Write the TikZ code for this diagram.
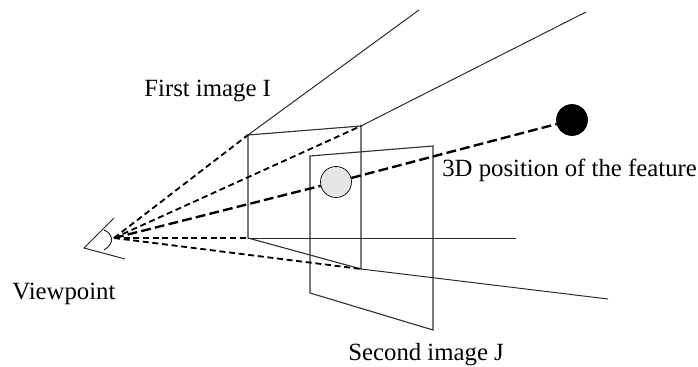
\documentclass[tikz,border=0pt]{standalone}
\usepackage{fontspec}
\setmainfont{Liberation Serif}
\usetikzlibrary{positioning}

\begin{document}
\begin{tikzpicture}[
    x=0.02cm, y=-0.02cm,
    frame/.style={draw=black!80, line width=0.65pt},
    ray/.style={draw=black!85, line width=0.55pt},
    dray/.style={line width=1.05pt, dash pattern=on 3.4pt off 2.1pt},
    fray/.style={line width=1.35pt, dash pattern=on 5.6pt off 2.4pt},
    feat/.style={circle, draw, inner sep=0pt, minimum size=0.62cm},
    lbl/.style={font=\fontsize{14.1}{16}\selectfont, inner sep=0pt, anchor=base west}
]
\useasboundingbox (0,0) rectangle (698,367);
\coordinate (eye) at (84,248);
\coordinate (lidU) at (114,218);
\coordinate (lidL) at (125,259);
\coordinate (irisU) at (104,230);
\coordinate (irisL) at (104,250);
\coordinate (F) at (114,238);

\coordinate (Ia) at (248,135);
\coordinate (Ib) at (361,126);
\coordinate (Ic) at (361,269);
\coordinate (Id) at (248,238);

\coordinate (Ja) at (310,156);
\coordinate (Jb) at (433,146);
\coordinate (Jc) at (433,330);
\coordinate (Jd) at (310,293);

\coordinate (Ra) at (419,10);
\coordinate (Rb) at (586,12);
\coordinate (Rc) at (608,299);
\coordinate (Rd) at (516,238);

\node[feat, fill=black!10] (G) at (336,182) {};
\node[feat, fill=black] (P) at (572,120) {};

% image planes
\draw[frame] (Ia) -- (Ib) -- (Ic) -- (Id) -- cycle;
\draw[frame] (Ja) -- (Jb) -- (Jc) -- (Jd) -- cycle;

% rays behind the planes
\draw[ray] (Ia) -- (Ra);
\draw[ray] (Ib) -- (Rb);
\draw[ray] (Ic) -- (Rc);
\draw[ray] (Id) -- (Rd);

% viewpoint
\draw[ray] (lidU) -- (eye) -- (lidL);
\draw[ray] (irisU) .. controls (112,233) and (116,243) .. (irisL);

% rays to the corners
\draw[dray] (F) -- (Ia);
\draw[dray] (F) -- (Ib);
\draw[dray] (F) -- (Ic);
\draw[dray] (F) -- (Id);
\draw[fray] (F) -- (G);
\draw[fray] (G) -- (P);

\node[lbl] (first) at (144,97) {First image I};
\node[lbl] (pos) at (442,177) {3D position of the feature};
\node[lbl] (view) at (12,300) {Viewpoint};
\node[lbl] (second) at (348,361) {Second image J};
\end{tikzpicture}
\end{document}
